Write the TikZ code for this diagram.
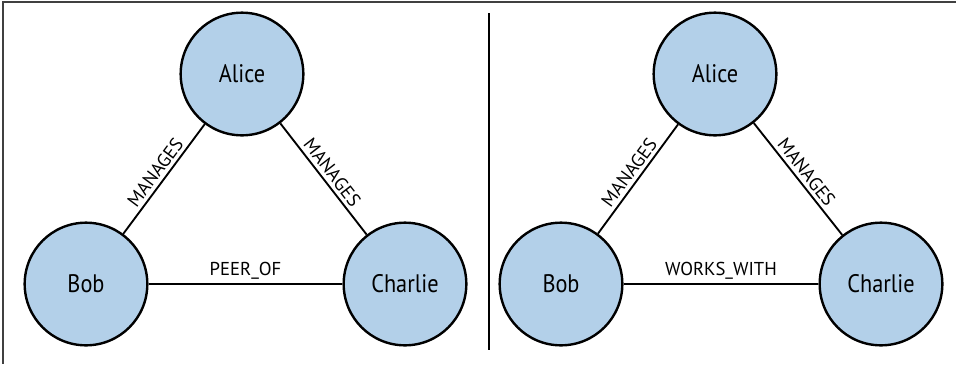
\documentclass[tikz,border=0pt]{standalone}
\usepackage{fontspec}
\setmainfont{PT Sans}
\newfontfamily\namefont{PT Sans}[FakeStretch=0.88]
\usetikzlibrary{positioning}
\definecolor{nodeblue}{RGB}{179,208,233}

\begin{document}
\begin{tikzpicture}[
    x=0.75pt, y=-0.75pt,
    person/.style={
        circle, draw,
        line width=1.8pt,
        fill=nodeblue,
        minimum size=92pt,
        inner sep=0pt,
        font=\namefont\fontsize{19}{21}\selectfont
    },
    rel/.style={line width=1.4pt},
    lbl/.style={sloped, above, inner sep=2.5pt, font=\fontsize{14}{16}\selectfont},
    frame/.style={line width=1pt, black!75}
]
\useasboundingbox (0,0) rectangle (956,365);

% ===================== FRAME =====================
\coordinate (frameTL) at (3,2);
\coordinate (frameTR) at (956,2);
\coordinate (frameBL) at (3,364);
\draw[frame] (frameTR) -- (frameTL) -- (frameBL);

\coordinate (divTop) at (489,13);
\coordinate (divBot) at (489,350);
\draw[line width=1.6pt] (divTop) -- (divBot);

% ===================== LEFT: PEER_OF =====================
\node[person] (aliceL)   at (242,74)  {Alice};
\node[person] (bobL)     at (86,284)  {Bob};
\node[person] (charlieL) at (405,284) {Charlie};

\draw[rel] (aliceL) -- node[lbl]{MANAGES} (bobL);
\draw[rel] (aliceL) -- node[lbl]{MANAGES} (charlieL);
\draw[rel] (bobL) -- node[lbl]{PEER\_OF} (charlieL);

% ===================== RIGHT: WORKS_WITH =====================
\node[person] (aliceR)   at (715,74)  {Alice};
\node[person] (bobR)     at (561,284) {Bob};
\node[person] (charlieR) at (881,284) {Charlie};

\draw[rel] (aliceR) -- node[lbl]{MANAGES} (bobR);
\draw[rel] (aliceR) -- node[lbl]{MANAGES} (charlieR);
\draw[rel] (bobR) -- node[lbl]{WORKS\_WITH} (charlieR);

\end{tikzpicture}
\end{document}
